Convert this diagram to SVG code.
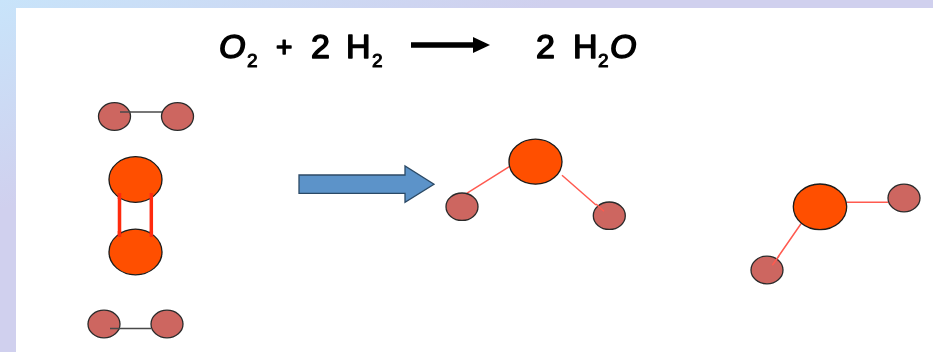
<svg xmlns="http://www.w3.org/2000/svg" width="933" height="352" viewBox="0 0 933 352">
<style>
g{filter:url(#soft)}
.h{fill:#cd6660;stroke:#2a2a2a;stroke-width:1.3}
.o{fill:#ff5000;stroke:#1a1a1a;stroke-width:1.3}
.b{stroke:#ff5a50;stroke-width:1.5;fill:none}
.g{stroke:#4a4a4a;stroke-width:1.5;fill:none}
.d{stroke:#ff2a10;stroke-width:3.5;fill:none}
.t{font-family:"Liberation Sans",Arial,sans-serif;font-size:34px;fill:#000;stroke:#000;stroke-width:1.5;stroke-linejoin:round}
.s{font-size:19px;stroke-width:1}
.p{font-size:28px}
.i{font-style:italic}
</style>
<defs>
<linearGradient id="bg" x1="0" y1="0" x2="1" y2="1">
<stop offset="0" stop-color="#c8e4fa"/>
<stop offset="0.3" stop-color="#d0d0ee"/>
<stop offset="1" stop-color="#d0d0ee"/>
</linearGradient>
<filter id="soft" x="-5%" y="-5%" width="110%" height="110%"><feGaussianBlur stdDeviation="0.45"/></filter>
</defs>
<rect width="933" height="352" fill="url(#bg)"/>
<rect x="16" y="8" width="917" height="344" fill="#fff"/>
<g id="equation">
<text class="t i" x="219" y="58">O</text>
<text class="t s" x="247" y="67">2</text>
<text class="t p" x="276" y="56">+</text>
<text class="t" x="311" y="58">2</text>
<text class="t" x="346" y="58">H</text>
<text class="t s" x="372" y="67">2</text>
<text class="t" x="536" y="58">2</text>
<text class="t" x="573" y="58">H</text>
<text class="t s" x="598" y="67">2</text>
<text class="t i" x="610" y="58">O</text>
<path id="reaction-arrow" d="M411 42.2H473V37L490 45L473 53V47.8H411Z" fill="#000"/>
</g>
<g id="connectors">
<path class="g" d="M120 112H162"/>
<path class="g" d="M110 328.5H151"/>
<path class="d" d="M119.5 193V237M151.3 193V237"/>
<path class="b" d="M466.7 193.3L509.3 166.7M562 175.3L596 205"/>
<path class="b" d="M847 202.3H888M801 223.7L778 257"/>
</g>
<g id="h2-top">
<ellipse class="h" cx="114.5" cy="116.5" rx="16" ry="13.8"/>
<ellipse class="h" cx="177.5" cy="116.5" rx="16" ry="13.8"/>
<path class="g" d="M120 112H130"/>
</g>
<g id="o2">
<ellipse class="o" cx="135.5" cy="179.5" rx="26.5" ry="22.8"/>
<ellipse class="o" cx="135.5" cy="252" rx="26.5" ry="22.8"/>
<path class="d" d="M119.5 193V199M151.3 193V199M119.5 231V237M151.3 231V237"/>
</g>
<g id="h2-bottom">
<ellipse class="h" cx="104" cy="324" rx="16" ry="13.8"/>
<ellipse class="h" cx="167" cy="324" rx="16" ry="13.8"/>
<path class="g" d="M110 328.5H120"/>
</g>
<g id="block-arrow">
<path d="M299 175H405V166L434 184.3L405 202.3V193.3H299Z" fill="#5b93c9" stroke="#2c4a66" stroke-width="1.3"/>
</g>
<g id="water-1">
<ellipse class="o" cx="535.5" cy="161.7" rx="26.5" ry="22.5"/>
<ellipse class="h" cx="462" cy="206.7" rx="16" ry="13.7"/>
<ellipse class="h" cx="609.3" cy="215.7" rx="16" ry="13.7"/>
<path class="b" d="M596 204L604 211.3"/>
</g>
<g id="water-2">
<ellipse class="o" cx="820" cy="206.8" rx="26.7" ry="22.8"/>
<ellipse class="h" cx="904" cy="198" rx="16" ry="13.8"/>
<ellipse class="h" cx="767" cy="270" rx="16" ry="13.8"/>
<path class="b" d="M779 256L772.3 265.3"/>
</g>
</svg>
